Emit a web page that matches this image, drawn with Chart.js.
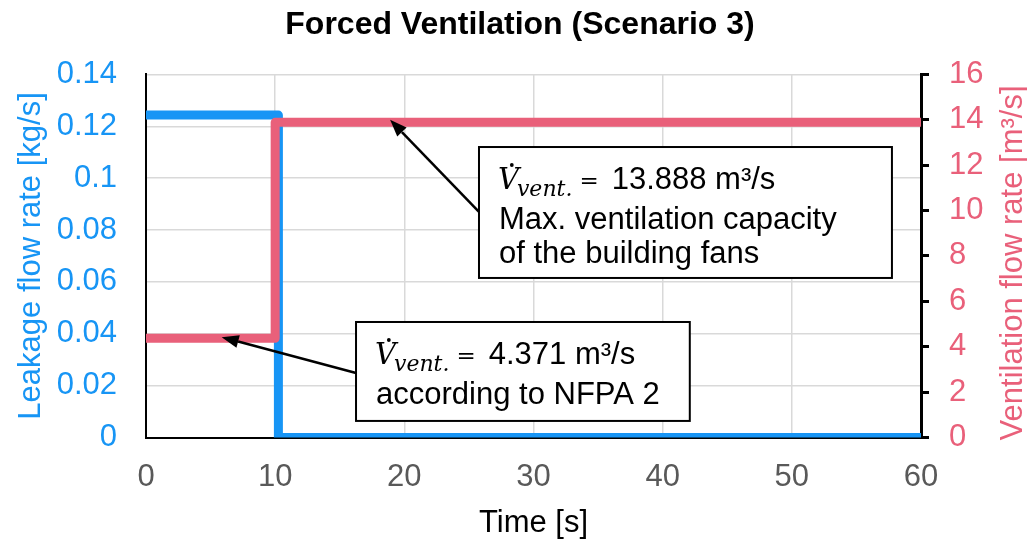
<!DOCTYPE html>
<html>
<head>
<meta charset="utf-8">
<script src="https://cdn.jsdelivr.net/npm/chart.js@4.4.1/dist/chart.umd.min.js"></script>
<style>
  html, body { margin: 0; padding: 0; background: #fff; }
  #wrap { width: 1027px; height: 539px; }
</style>
</head>
<body>
<div id="wrap"><canvas id="c" width="1027" height="539"></canvas></div>
<script>
// Leakage (left axis, kg/s) and ventilation (right axis, m³/s) over time
const timeLeak = [0, 10.25, 10.25, 60];
const leakRate = [0.1243, 0.1243, 0, 0];
const timeVent = [0, 10, 10, 60];
const ventRate = [4.371, 4.371, 13.888, 13.888];

const xTicks = [0, 10, 20, 30, 40, 50, 60];
const leftTicks = [0, 0.02, 0.04, 0.06, 0.08, 0.1, 0.12, 0.14];
const rightTicks = [0, 2, 4, 6, 8, 10, 12, 14, 16];

// Callout boxes, placed in time / ventilation-rate units
const notes = [
  { value: '13.888', lines: ['Max. ventilation capacity', 'of the building fans'],
    tip: [18.9, 14.0], tail: [25.78, 9.94], box: [25.78, 57.75, 12.80, 7.03] },
  { value: '4.371', lines: ['according to NFPA 2'],
    tip: [5.86, 4.42], tail: [16.26, 2.84], box: [16.26, 42.1, 5.09, 0.73] }
];

const BLUE = '#1795F5';
const RED = '#E9607A';
const SANS = '"Liberation Sans", Arial, sans-serif';
Chart.defaults.font.family = SANS;

const pts = (xs, ys) => xs.map((x, i) => ({ x, y: ys[i] }));
const useTicks = list => scale => { scale.ticks = list.map(v => ({ value: v })); };

function drawArrow(ctx, x0, y0, x1, y1) {
  const ang = Math.atan2(y1 - y0, x1 - x0);
  const len = 17, half = 6.5;
  const bx = x1 - len * Math.cos(ang), by = y1 - len * Math.sin(ang);
  ctx.beginPath();
  ctx.moveTo(x0, y0);
  ctx.lineTo(bx, by);
  ctx.lineWidth = 2.5;
  ctx.strokeStyle = '#000';
  ctx.stroke();
  ctx.beginPath();
  ctx.moveTo(x1, y1);
  ctx.lineTo(bx + half * Math.sin(ang), by - half * Math.cos(ang));
  ctx.lineTo(bx - half * Math.sin(ang), by + half * Math.cos(ang));
  ctx.closePath();
  ctx.fillStyle = '#000';
  ctx.fill();
}

function drawFlowLine(ctx, x, y, value) {
  ctx.fillStyle = '#000';
  ctx.textBaseline = 'alphabetic';
  ctx.textAlign = 'left';
  ctx.font = 'italic 29px "DejaVu Serif"';
  ctx.fillText('V', x, y);
  const vw = ctx.measureText('V').width;
  ctx.beginPath();
  ctx.arc(x + vw * 0.66, y - 24, 1.9, 0, Math.PI * 2);
  ctx.fill();
  ctx.font = 'italic 22px "DejaVu Serif"';
  const sx = x + vw - 2;
  ctx.fillText('vent.', sx, y + 7);
  let cx = sx + ctx.measureText('vent.').width + 7;
  ctx.font = '23px "DejaVu Serif"';
  ctx.fillText('=', cx, y - 1);
  cx += ctx.measureText('=').width + 13;
  ctx.font = '31px ' + SANS;
  ctx.fillText(value + ' m³/s', cx, y);
}

const calloutPlugin = {
  id: 'callouts',
  afterDatasetsDraw(chart) {
    const { ctx, scales: { x, y1 } } = chart;
    ctx.save();
    notes.forEach(n => {
      const l = x.getPixelForValue(n.box[0]), r = x.getPixelForValue(n.box[1]);
      const t = y1.getPixelForValue(n.box[2]), b = y1.getPixelForValue(n.box[3]);
      drawArrow(ctx, x.getPixelForValue(n.tail[0]), y1.getPixelForValue(n.tail[1]),
                x.getPixelForValue(n.tip[0]), y1.getPixelForValue(n.tip[1]));
      ctx.fillStyle = '#fff';
      ctx.fillRect(l, t, r - l, b - t);
      ctx.lineWidth = 2;
      ctx.strokeStyle = '#000';
      ctx.strokeRect(l, t, r - l, b - t);
      drawFlowLine(ctx, l + 19, t + 42, n.value);
      ctx.font = '31px ' + SANS;
      ctx.fillStyle = '#000';
      const gaps = [82, 116];
      n.lines.forEach((s, i) => ctx.fillText(s, l + 20, t + gaps[i]));
    });
    ctx.restore();
  },
  afterDraw(chart) {
    // right-hand axis title, reading bottom to top like the left one
    const { ctx, chartArea } = chart;
    ctx.save();
    ctx.translate(chart.width - 14, (chartArea.top + chartArea.bottom) / 2 + 7);
    ctx.rotate(-Math.PI / 2);
    ctx.font = '31px ' + SANS;
    ctx.fillStyle = RED;
    ctx.textAlign = 'center';
    ctx.textBaseline = 'middle';
    ctx.fillText('Ventilation flow rate [m³/s]', 0, 0);
    ctx.restore();
  }
};

new Chart(document.getElementById('c'), {
  type: 'line',
  data: {
    datasets: [
      { label: 'Ventilation flow rate', data: pts(timeVent, ventRate), yAxisID: 'y1',
        borderColor: RED, borderWidth: 9, pointRadius: 0, borderJoinStyle: 'round',
        fill: false, tension: 0, order: 0 },
      { label: 'Leakage flow rate', data: pts(timeLeak, leakRate), yAxisID: 'y',
        borderColor: BLUE, borderWidth: 9, pointRadius: 0, borderJoinStyle: 'round',
        fill: false, tension: 0, order: 1 }
    ]
  },
  options: {
    responsive: false,
    animation: false,
    events: [],
    layout: { padding: { left: 13, right: 0, top: 0, bottom: 0 } },
    plugins: {
      legend: { display: false },
      tooltip: { enabled: false },
      title: {
        display: true,
        text: 'Forced Ventilation (Scenario 3)',
        color: '#000',
        font: { size: 32, weight: 'bold', lineHeight: 1.2 },
        padding: { top: 6, bottom: 30 }
      }
    },
    scales: {
      x: {
        type: 'linear', min: 0, max: 60,
        afterBuildTicks: useTicks(xTicks),
        afterFit: s => { s.height = 101.5; },
        grid: { color: '#d9d9d9', lineWidth: 1.5, drawTicks: false },
        border: { color: '#000', width: 2 },
        ticks: { color: '#595959', font: { size: 31 }, padding: 21, maxRotation: 0 },
        title: { display: true, text: 'Time [s]', color: '#000',
                 font: { size: 31, lineHeight: 1 }, padding: 0 }
      },
      y: {
        position: 'left', min: 0, max: 0.14,
        afterBuildTicks: useTicks(leftTicks),
        afterFit: s => { s.width = 133; },
        grid: { color: '#d9d9d9', lineWidth: 1.5, drawTicks: false },
        border: { color: '#000', width: 2 },
        ticks: { color: BLUE, font: { size: 31 }, padding: 29,
                 callback: v => String(+v.toFixed(2)) },
        title: { display: true, text: 'Leakage flow rate [kg/s]', color: BLUE,
                 font: { size: 31, lineHeight: 1.2 }, padding: 0 }
      },
      y1: {
        position: 'right', min: 0, max: 16,
        afterBuildTicks: useTicks(rightTicks),
        afterFit: s => { s.width = 106; },
        grid: { drawOnChartArea: false, color: '#000', lineWidth: 3, tickLength: 8 },
        border: { color: '#000', width: 3 },
        ticks: { color: RED, font: { size: 31 }, padding: 20 }
      }
    }
  },
  plugins: [calloutPlugin]
});
</script>
</body>
</html>
